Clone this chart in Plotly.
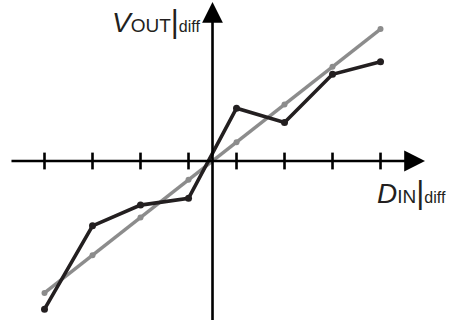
import plotly.graph_objects as go

# Input codes (differential) and output levels
codes = [-3.5, -2.5, -1.5, -0.5, 0.5, 1.5, 2.5, 3.5]
ideal_out = [-3.5, -2.5, -1.5, -0.5, 0.5, 1.5, 2.5, 3.5]
actual_out = [-3.93, -1.72, -1.17, -0.99, 1.40, 1.02, 2.30, 2.63]
tick_positions = [-3.5, -2.5, -1.5, -0.5, 0.5, 1.5, 2.5, 3.5]

W, H = 459, 320
x_range = [-4.427, 5.135]
y_range = [-4.218, 4.271]

AXIS = "#000000"
GRAY = "#8c8c8c"
DARK = "#231f20"

fig = go.Figure()

# tick marks crossing the horizontal axis
fig.add_trace(go.Scatter(
    x=tick_positions, y=[0] * len(tick_positions), mode="markers",
    marker=dict(symbol="line-ns", size=12, line=dict(width=2.6, color=AXIS)),
    hoverinfo="skip", showlegend=False,
))

# ideal transfer line
fig.add_trace(go.Scatter(
    x=codes, y=ideal_out, mode="lines+markers",
    line=dict(color=GRAY, width=3.4),
    marker=dict(size=6, color=GRAY),
    showlegend=False,
))

# measured transfer curve
fig.add_trace(go.Scatter(
    x=codes, y=actual_out, mode="lines+markers",
    line=dict(color=DARK, width=3.6),
    marker=dict(size=7, color=DARK),
    showlegend=False,
))

# axes with arrowheads
fig.add_annotation(x=4.427, y=0, ax=-4.219, ay=0, xref="x", yref="y", axref="x", ayref="y",
                   text="", showarrow=True, arrowhead=2, arrowsize=1.6, arrowwidth=2.6,
                   arrowcolor=AXIS, standoff=0)
fig.add_annotation(x=0, y=4.22, ax=0, ay=-4.3, xref="x", yref="y", axref="x", ayref="y",
                   text="", showarrow=True, arrowhead=2, arrowsize=1.6, arrowwidth=2.6,
                   arrowcolor=AXIS, standoff=0)

FONT = "Liberation Sans, Arial, sans-serif"

def axis_label(main, sub):
    return (f"<i><span style='font-size:28px'>{main}</span></i>"
            f"<span style='font-size:19px'>{sub}</span>"
            f"<span style='font-size:31px'>|</span>"
            f"<span style='font-size:16px'>diff</span>")

fig.add_annotation(text=axis_label("V", "OUT"), xref="paper", yref="paper",
                   x=202 / W, y=1 - 22 / H, xanchor="right", yanchor="middle",
                   showarrow=False, font=dict(family=FONT, color="#231f20"))
fig.add_annotation(text=axis_label("D", "IN"), xref="paper", yref="paper",
                   x=375 / W, y=1 - 192 / H, xanchor="left", yanchor="middle",
                   showarrow=False, font=dict(family=FONT, color="#231f20"))

fig.update_xaxes(range=x_range, visible=False, fixedrange=True)
fig.update_yaxes(range=y_range, visible=False, fixedrange=True)
fig.update_layout(
    width=W, height=H, margin=dict(l=0, r=0, t=0, b=0),
    plot_bgcolor="white", paper_bgcolor="white",
)

fig.write_html("out.html")
